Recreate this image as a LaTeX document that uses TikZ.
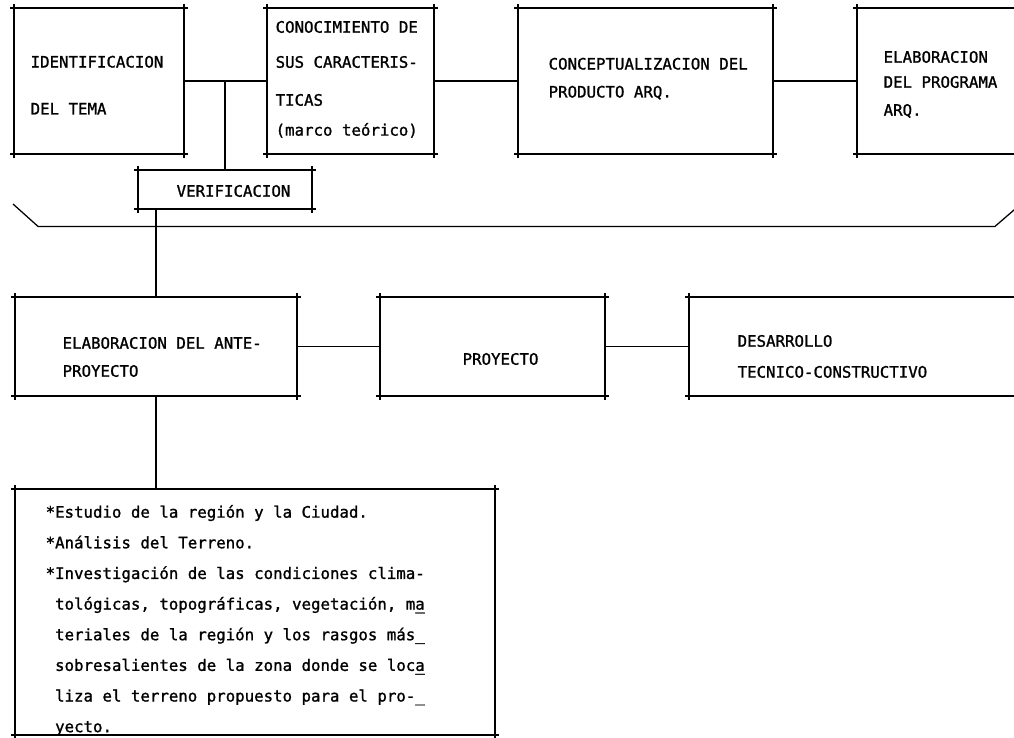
\documentclass[tikz,border=0pt]{standalone}
\usepackage{fontspec}
\newfontfamily\typefont[FakeBold=1.2]{DejaVu Sans Mono}
\tikzset{
  box/.style={inner sep=0pt, outer sep=0pt},
  toprow/.style={box, minimum height=3.65cm},
  lowrow/.style={box, minimum height=2.475cm},
  txt/.style={font=\typefont\fontsize{11.2}{#1}\selectfont, inner sep=0pt, align=left, anchor=north west},
  txt/.default=20pt
}
\begin{document}
\begin{tikzpicture}[line width=0.9pt]
          \useasboundingbox (0,0) rectangle (25.35,-18.45);
          % first row of boxes
          \node[toprow, minimum width=4.25cm] (tema) at (2.475,-2.025) {};
          \node[toprow, minimum width=4.175cm] (marco) at (8.7625,-2.025) {};
          \node[toprow, minimum width=6.375cm] (concepto) at (16.1375,-2.025) {};
          \node[toprow, minimum width=5.075cm] (programa) at (23.9625,-2.025) {};
          \node[box, minimum width=4.35cm, minimum height=0.975cm] (verif) at (5.625,-4.7375) {};
          % second row of boxes
          \node[lowrow, minimum width=7.05cm] (ante) at (3.9,-8.6625) {};
          \node[lowrow, minimum width=5.625cm] (proyecto) at (12.3125,-8.6625) {};
          \node[lowrow, minimum width=9.275cm] (desarrollo) at (21.8625,-8.6625) {};
          % list box
          \node[box, minimum width=12cm, minimum height=6.15cm] (lista) at (6.375,-15.3) {};
          % texts
          \node[txt=33.4pt] (tema-t) at (0.75,-1.38) {IDENTIFICACION\\DEL TEMA};
          \node[txt=21.3pt] (marco-t) at (6.875,-0.51) {CONOCIMIENTO DE\\[3.6pt]SUS CARACTERIS-\\[5.7pt]TICAS\\(marco teórico)};
          \node[txt=19.9pt] (concepto-t) at (13.7,-1.43) {CONCEPTUALIZACION DEL\\PRODUCTO ARQ.};
          \node[txt=17.8pt] (programa-t) at (22.075,-1.26) {ELABORACION\\DEL PROGRAMA\\[2.1pt]ARQ.};
          \node[txt, anchor=west] (verif-t) at (4.4,-4.775) {VERIFICACION};
          \node[txt=19.9pt] (ante-t) at (1.55,-8.41) {ELABORACION DEL ANTE-\\PROYECTO};
          \node[txt, anchor=west] (proyecto-t) at (11.55,-8.975) {PROYECTO};
          \node[txt=22pt] (desarrollo-t) at (18.425,-8.36) {DESARROLLO\\TECNICO-CONSTRUCTIVO};
          \node[txt=21.8pt] (lista-t) at (1.125,-12.61) {*Estudio de la región y la Ciudad.\\
            *Análisis del Terreno.\\
            *Investigación de las condiciones clima-\\
            \hphantom{*}tológicas, topográficas, vegetación, m\rlap{a}\_\\
            \hphantom{*}teriales de la región y los rasgos más\_\\
            \hphantom{*}sobresalientes de la zona donde se loc\rlap{a}\_\\
            \hphantom{*}liza el terreno propuesto para el pro-\_\\
            \hphantom{*}yecto.};
          % frames, sides run a little past the corners
          \foreach \b in {tema,marco,concepto,programa,verif,ante,proyecto,desarrollo,lista} {
            \draw ([xshift=-1mm]\b.north west) -- ([xshift=1mm]\b.north east)
                  ([xshift=-1mm]\b.south west) -- ([xshift=1mm]\b.south east)
                  ([yshift=1mm]\b.north west) -- ([yshift=-1mm]\b.south west)
                  ([yshift=1mm]\b.north east) -- ([yshift=-1mm]\b.south east);
          }
          % connectors, first row
          \draw (tema.east) -- (marco.west);
          \draw (marco.east) -- (concepto.west);
          \draw (concepto.east) -- (programa.west);
          \draw (verif.north) -- (verif.north |- tema.east);
          % connectors, second row
          \draw (ante.north) -- (ante.north |- verif.south);
          \draw (ante.east) -- (proyecto.west);
          \draw (proyecto.east) -- (desarrollo.west);
          \draw (ante.south) -- (ante.south |- lista.north);
          % bracket
          \draw (0.325,-5.1) -- (0.95,-5.66) -- (24.875,-5.66) -- (25.5,-5.12);
        \end{tikzpicture}
\end{document}
